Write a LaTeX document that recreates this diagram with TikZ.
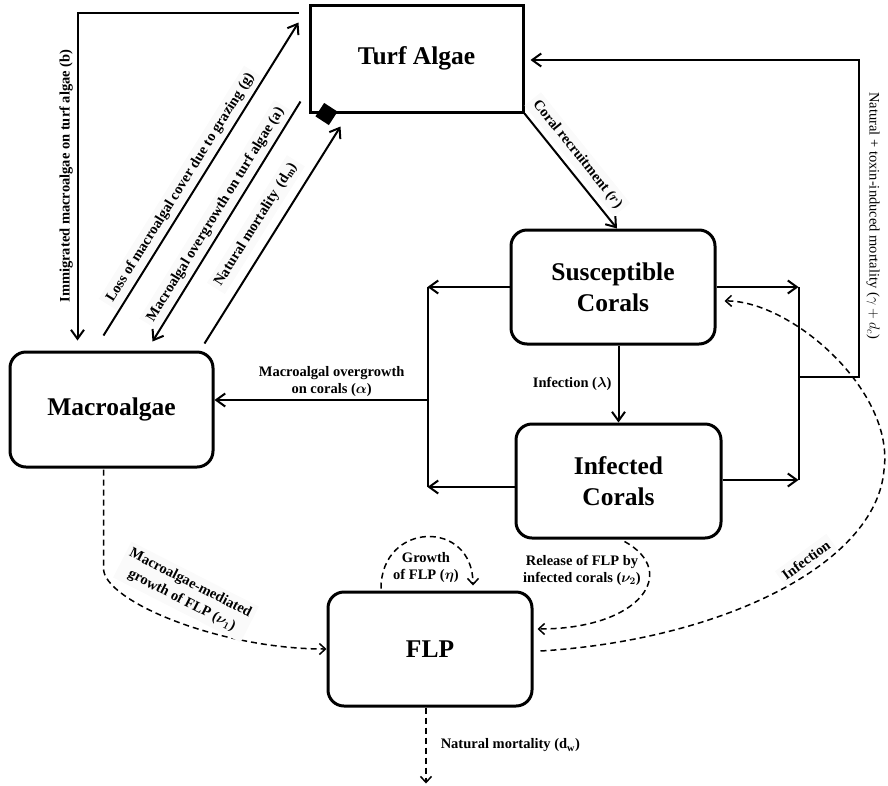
\documentclass[tikz,border=0pt]{standalone}
\usepackage{fontspec}
\setmainfont{Liberation Serif}
\usetikzlibrary{arrows.meta, calc}

\begin{document}
\begin{tikzpicture}[
    x=1pt, y=-1pt,
    line width=2pt,
    >={Straight Barb[length=9pt, width=13pt]},
    box/.style={draw, line width=3pt, rounded corners=16pt,
        minimum width=204pt, minimum height=114pt, inner sep=0pt,
        align=center, font=\fontsize{25.5}{31}\selectfont\bfseries},
    lbl/.style={font=\fontsize{14.5}{17}\selectfont\bfseries\boldmath, inner sep=2pt},
    band/.style={lbl, fill=black!2, inner sep=4pt},
    % dashed FLP fluxes
    flow/.style={dash pattern=on 6pt off 4pt, line width=1.5pt,
        -{Straight Barb[length=6pt, width=11pt]}}
]

    \useasboundingbox (0,0) rectangle (888,785);

    % Compartments
    \node[box, rounded corners=0pt, minimum width=213pt, minimum height=107pt] (turf) at (416.5,58.5) {Turf Algae};
    \node[box, minimum width=203pt, minimum height=115pt] (macro) at (111.5,409.5) {Macroalgae};
    \node[box] (sus) at (613,287) {Susceptible\\Corals};
    \node[box, minimum width=205pt] (inf) at (618.5,481) {Infected\\Corals};
    \node[box] (flp) at (430,649) {FLP};

    % Marker at the corner of turf algae
    \node[fill=black, minimum size=16pt, inner sep=0pt, rotate=-33] (tip) at ($(turf.south west)+(18,0.5)$) {};

    % Turf algae <-> macroalgae
    \draw[->] ($(turf.north west)+(-10,9)$) -| ($(macro.north west)+(69,-10)$);
    \node[lbl, rotate=90] (immlab) at (66,176) {Immigrated macroalgae on turf algae (b)};

    \draw[->] ($(macro.north west)+(95,-15)$) -- ($(turf.north west)+(-10,19)$)
        node[band, sloped, above=1pt, pos=0.45] {Loss of macroalgal cover due to grazing (g)};
    \draw[<-] ($(macro.north west)+(144,-9)$) -- ($(turf.south west)+(-8,-12)$)
        node[band, sloped, above=1pt, pos=0.5] {Macroalgal overgrowth on turf algae (a)};
    \draw[->] ($(macro.north west)+(196,-7)$) -- ($(turf.south west)+(32,13)$)
        node[band, sloped, above=8pt, pos=0.5] {Natural mortality\,\ (d\textsubscript{m})};

    % Recruitment and infection
    \draw[->] (turf.south east) -- ($(sus.north)+(4,0)$)
        node[band, sloped, above=4pt, pos=0.44] {Coral recruitment ($r$)};
    \draw[->] (inf.north |- sus.south) -- (inf.north)
        node[lbl, left=4pt, midway] {Infection ($\lambda$)};

    % Bus lines
    \coordinate (lbt) at ($(sus.west)+(-82,0)$);
    \coordinate (lbb) at ($(inf.west)+(-87,6)$);
    \coordinate (lbm) at ($(lbt)+(0,113)$);
    \coordinate (rbt) at ($(sus.east)+(82,0)$);
    \coordinate (rbb) at ($(inf.east)+(76,-1)$);
    \coordinate (rbm) at ($(rbt)+(0,90)$);

    \draw[->] (sus.west) -- (lbt);
    \draw[->] ($(inf.west)+(0,6)$) -- (lbb);
    \draw (lbt) -- (lbb);
    \draw[->] (lbm) -- (lbm -| macro.east)
        node[lbl, above, pos=0.45, align=center] {Macroalgal overgrowth\\on corals ($\alpha$)};

    \draw[->] (sus.east) -- (rbt);
    \draw[->] ($(inf.east)+(0,-1)$) -- (rbb);
    \draw (rbt) -- (rbb);
    \draw[->] (rbm) -- ++(60,0) |- ($(turf.east)+(6,1.5)$);
    \node[lbl, font=\fontsize{14.5}{17}\selectfont, rotate=-90] (mortlab) at (873,216) {Natural + toxin-induced mortality ($\gamma + d_c$)};

    % FLP fluxes
    \draw[flow] ($(macro.south)+(-8,1)$) -- ++(0,99) .. controls +(0,32) and +(-108,0) .. (flp.west);
    \node[band, rotate=-27, align=center, font=\fontsize{14.5}{19}\selectfont\bfseries\boldmath] (medlab) at (186,592) {Macroalgae-mediated\\growth of FLP ($\nu_1$)};

    \draw[flow] ($(flp.north)+(-49,-2)$) .. controls +(0,-67) and +(0,-67) .. ($(flp.north)+(43,-5)$);
    \node[lbl, align=center] (growlab) at (426,568) {Growth\\of FLP ($\eta$)};

    \draw[flow] ($(inf.south)+(6,2)$) .. controls +(55,30) and +(104,0) .. ($(flp.east)+(4,-20)$);
    \node[lbl, align=center] (rellab) at (582,570) {Release of FLP by\\infected corals ($\nu_2$)};

    \node[band, rotate=36] (inflab) at (806,560) {Infection};
    \coordinate (bend) at (884,470);
    \draw[flow] ($(flp.east)+(7,2)$) .. controls (720,640) and (876,565) .. (bend)
        .. controls (895,390) and (790,300) .. ($(sus.east)+(8,14)$);

    \draw[flow] ($(flp.south)+(-4,0)$) -- ++(0,76)
        node[lbl, right=12pt, midway] {Natural mortality (d\textsubscript{w})};

\end{tikzpicture}
\end{document}
